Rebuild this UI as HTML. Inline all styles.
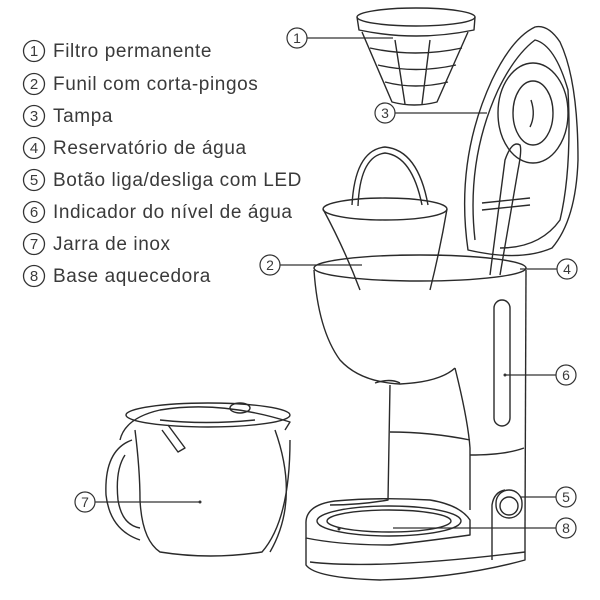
<!DOCTYPE html>
<html><head><style>
body{margin:0;background:#fff;}
svg{display:block}
text{font-family:"Liberation Sans",sans-serif;fill:#3a3a3a;}
</style></head><body>
<svg width="600" height="600" viewBox="0 0 600 600" xmlns="http://www.w3.org/2000/svg">
<g fill="none" stroke="#333" stroke-width="1.3">
<circle cx="34" cy="51" r="10.5"/><circle cx="34" cy="84" r="10.5"/><circle cx="34" cy="116" r="10.5"/><circle cx="34" cy="148" r="10.5"/>
<circle cx="34" cy="180" r="10.5"/><circle cx="34" cy="212" r="10.5"/><circle cx="34" cy="244" r="10.5"/><circle cx="34" cy="276" r="10.5"/>
</g>
<g font-size="15" text-anchor="middle">
<text x="34" y="56">1</text><text x="34" y="89">2</text><text x="34" y="121">3</text><text x="34" y="153">4</text>
<text x="34" y="185">5</text><text x="34" y="217">6</text><text x="34" y="249">7</text><text x="34" y="281">8</text>
</g>
<g font-size="19" letter-spacing="0.6" style="fill:#444">
<text x="53" y="57">Filtro permanente</text>
<text x="53" y="90">Funil com corta-pingos</text>
<text x="53" y="122">Tampa</text>
<text x="53" y="154">Reservatório de água</text>
<text x="53" y="186">Botão liga/desliga com LED</text>
<text x="53" y="218">Indicador do nível de água</text>
<text x="53" y="250">Jarra de inox</text>
<text x="53" y="282">Base aquecedora</text>
</g>

<g fill="#fff" stroke="#333" stroke-width="1.2">
<line x1="307" y1="38" x2="393" y2="38"/><circle cx="297" cy="38" r="10"/>
<line x1="395" y1="113" x2="487" y2="113"/><circle cx="385" cy="113" r="10"/>
<line x1="280" y1="265" x2="362" y2="265"/><circle cx="270" cy="265" r="10"/>
<line x1="520" y1="269" x2="557" y2="269"/><circle cx="567" cy="269" r="10"/>
<line x1="505" y1="375" x2="556" y2="375"/><circle cx="566" cy="375" r="10"/>
<line x1="520" y1="497" x2="556" y2="497"/><circle cx="566" cy="497" r="10"/>
<line x1="393" y1="528" x2="556" y2="528"/><circle cx="566" cy="528" r="10"/>
<line x1="95" y1="502" x2="200" y2="502"/><circle cx="85" cy="502" r="10"/>
</g>
<g font-size="14" text-anchor="middle">
<text x="297" y="43">1</text><text x="385" y="118">3</text><text x="270" y="270">2</text><text x="567" y="274">4</text>
<text x="566" y="380">6</text><text x="566" y="502">5</text><text x="566" y="533">8</text><text x="85" y="507">7</text>
</g>

<g fill="none" stroke="#2a2a2a" stroke-width="1.4" stroke-linejoin="round">
<ellipse cx="416" cy="17" rx="59" ry="9"/>
<path d="M357 17 L359 30 Q416 42 474 30 L475 17"/>
<path d="M362 32 L392 102 Q414 108 437 102 L468 32"/>
<path d="M370 48 Q415 58 462 48 M378 65 Q415 74 456 65 M385 82 Q415 90 448 82 M395 40 L405 104 M430 40 L422 104"/>
<path d="M468 250 Q455 160 492 80 Q512 38 535 27 Q548 24 560 42 Q578 80 578 160 Q576 220 552 248 Q520 262 468 250Z"/>
<path d="M475 240 Q466 160 498 90 Q515 55 535 40 Q555 45 568 90 Q572 170 560 220 Q540 248 500 248"/>
<ellipse cx="533" cy="113" rx="35" ry="50"/>
<ellipse cx="533" cy="113" rx="20" ry="32"/>
<path d="M531 100 Q536 115 530 127"/>
<path d="M490 275 L505 160 Q512 140 520 145 Q522 150 518 170 L500 275"/>
<path d="M482 210 L530 205 M482 203 L530 198"/>
<ellipse cx="385" cy="209" rx="62" ry="11"/>
<path d="M323 209 Q345 250 360 290 M447 209 Q440 250 430 290"/>
<path d="M352 205 Q355 150 385 147 Q418 150 428 205 M358 206 Q360 156 385 153 Q412 156 422 205"/>
<ellipse cx="420" cy="268" rx="106" ry="13"/>
<path d="M314 270 Q318 330 340 360 Q360 382 400 384 Q440 382 455 368"/>
<path d="M526 270 L525 530"/>
<path d="M455 368 Q468 420 470 448 L470 510"/>
<path d="M390 385 L388 500 Q360 505 330 505"/>
<path d="M390 432 Q430 432 470 440"/>
<path d="M470 455 Q505 455 524 448"/>
<rect x="494" y="300" width="16" height="126" rx="8"/>
<path d="M375 383 Q390 378 400 383"/>
<path d="M306 524 Q305 505 335 501 Q380 497 430 500 Q460 505 470 520 L470 535 Q420 542 390 545 Q340 545 306 538 Z"/>
<ellipse cx="389" cy="521" rx="72" ry="15"/>
<ellipse cx="389" cy="521" rx="62" ry="11"/>
<path d="M306 538 L306 565 Q315 578 380 580 Q460 578 525 560 L525 530"/>
<path d="M310 562 Q380 570 525 552"/>
<rect x="496" y="490" width="26" height="28" rx="13"/>
<circle cx="509" cy="506" r="9"/>
<path d="M492 560 L492 505 Q494 492 505 490"/>
<path d="M120 440 Q125 418 160 410 Q220 400 290 422 L285 430"/>
<ellipse cx="208" cy="415" rx="82" ry="12"/>
<path d="M135 430 Q140 470 140 500 Q142 540 160 552 Q210 560 262 552 Q290 520 290 440"/>
<path d="M132 440 Q104 450 106 495 Q110 530 140 540"/>
<path d="M125 455 Q115 470 118 500 Q122 525 140 528"/>
<path d="M275 430 Q300 500 270 552"/>
<path d="M160 420 Q205 425 255 420"/>
<ellipse cx="240" cy="408" rx="10" ry="5"/>
<path d="M168 425 L185 448 L178 452 L162 430"/>
</g>
<g fill="#333"><circle cx="339" cy="529" r="1.5"/><circle cx="505" cy="375" r="1.5"/><circle cx="200" cy="502" r="1.5"/></g>
</svg>
</body></html>
